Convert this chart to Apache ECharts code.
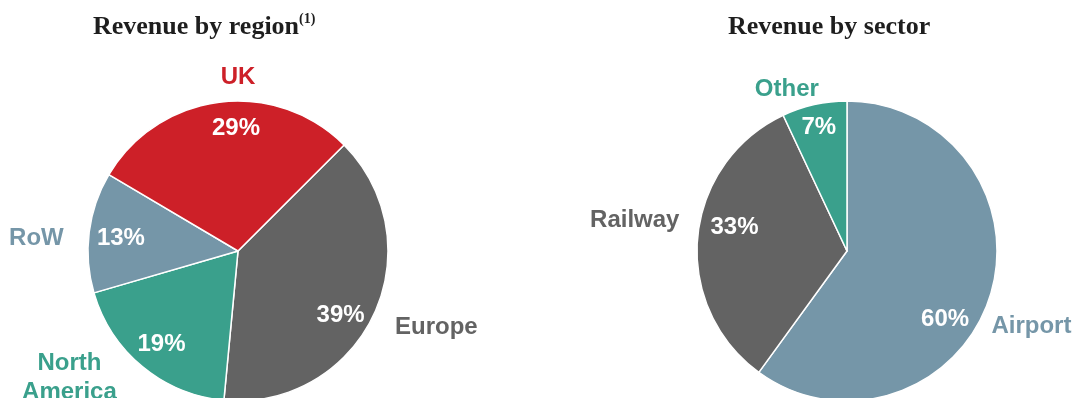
<!DOCTYPE html>
<html>
<head>
<meta charset="utf-8">
<script src="https://cdn.jsdelivr.net/npm/echarts@6/dist/echarts.min.js"></script>
<style>
  html, body { margin: 0; padding: 0; background: #fff; }
  #chart { width: 1073px; height: 398px; }
</style>
</head>
<body>
<div id="chart"></div>
<script>
// Revenue by region (clockwise from the 45deg mark)
const regionNames = ['Europe', 'North America', 'RoW', 'UK'];
const regionLabels = ['Europe', 'North\nAmerica', 'RoW', 'UK'];
const regionShares = [39, 19, 13, 29];
const regionColors = ['#636363', '#3aa08c', '#7596a8', '#cd2028'];

// Revenue by sector (clockwise from 12 o'clock)
const sectorNames = ['Airport', 'Railway', 'Other'];
const sectorLabels = ['Airport', 'Railway', 'Other'];
const sectorShares = [60, 33, 7];
const sectorColors = ['#7596a8', '#636363', '#3aa08c'];

// label nudges (Excel "best fit" doesn't sit exactly on the mid angle)
const pctNudge = {
  Europe: [-6, 13], 'North America': [0, 1], RoW: [2, 2], UK: [13, -4],
  Airport: [-16, 31], Railway: [7, -12], Other: [-2, -7]
};
const nameNudge = {
  Europe: [40, 2], 'North America': [-57, -8], RoW: [-28, 9], UK: [22, 0],
  Airport: [18, 21], Railway: [-38, -14], Other: [-22, 9]
};

const R = 150;
const sans = 'Liberation Sans, Arial, sans-serif';
const serif = 'Liberation Serif, Times New Roman, serif';

function pieSeries(center, startAngle, names, labels, values, colors) {
  const data = names.map((n, i) => ({ name: n, value: values[i] }));
  const nudge = (tbl) => (p) => {
    const d = tbl[names[p.dataIndex]] || [0, 0];
    return { dx: d[0], dy: d[1] };
  };
  return [
    {
      type: 'pie',
      center: center,
      radius: [0, R],
      startAngle: startAngle,
      clockwise: true,
      label: { show: false },
      labelLine: { show: false },
      itemStyle: { borderColor: '#fff', borderWidth: 1.5 },
      data: data.map((d, i) => ({ ...d, itemStyle: { color: colors[i] } }))
    },
    {
      // percentage labels
      type: 'pie',
      silent: true,
      center: center,
      radius: [R * 0.56, R],
      startAngle: startAngle,
      avoidLabelOverlap: false,
      itemStyle: { color: 'rgba(0,0,0,0)' },
      label: {
        show: true,
        position: 'inside',
        formatter: (p) => p.value + '%',
        color: '#fff',
        fontFamily: sans,
        fontWeight: 'bold',
        fontSize: 24
      },
      labelLine: { show: false },
      labelLayout: nudge(pctNudge),
      data: data
    },
    {
      // category names around the pie
      type: 'pie',
      silent: true,
      center: center,
      radius: [R, R + 44],
      startAngle: startAngle,
      avoidLabelOverlap: false,
      itemStyle: { color: 'rgba(0,0,0,0)' },
      label: {
        show: true,
        position: 'inside',
        formatter: (p) => labels[p.dataIndex],
        fontFamily: sans,
        fontWeight: 'bold',
        fontSize: 24,
        lineHeight: 29
      },
      labelLine: { show: false },
      labelLayout: nudge(nameNudge),
      data: data.map((d, i) => ({ ...d, label: { color: colors[i] } }))
    }
  ];
}

const chart = echarts.init(document.getElementById('chart'));
chart.setOption({
  animation: false,
  backgroundColor: '#fff',
  title: [
    {
      text: '{a|Revenue by region}{b|(1)}',
      left: 93,
      top: 12,
      padding: 0,
      textStyle: {
        rich: {
          a: { fontFamily: serif, fontWeight: 'bold', fontSize: 26, color: '#1e1e1e', lineHeight: 30 },
          b: { fontFamily: serif, fontWeight: 'bold', fontSize: 14, color: '#1e1e1e', lineHeight: 22, verticalAlign: 'top' }
        }
      }
    },
    {
      text: 'Revenue by sector',
      left: 728,
      top: 12,
      padding: 0,
      textStyle: { fontFamily: serif, fontWeight: 'bold', fontSize: 26, color: '#1e1e1e', lineHeight: 30 }
    }
  ],
  series: [
    ...pieSeries([238, 251], 45, regionNames, regionLabels, regionShares, regionColors),
    ...pieSeries([847, 251], 90, sectorNames, sectorLabels, sectorShares, sectorColors)
  ]
});
window.addEventListener('resize', () => chart.resize());
</script>
</body>
</html>
